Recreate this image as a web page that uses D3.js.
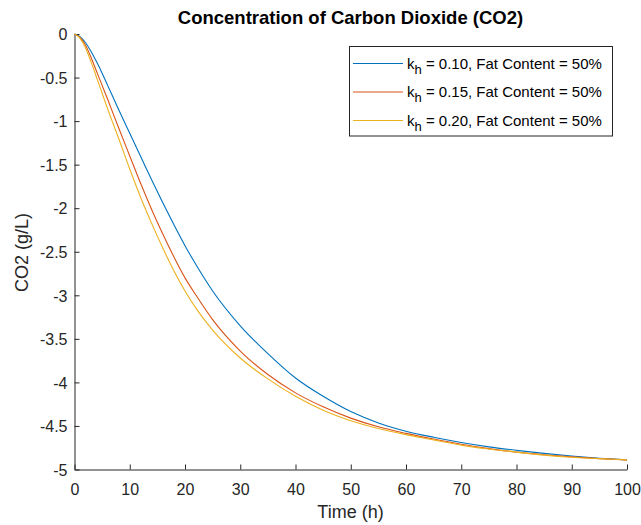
<!DOCTYPE html>
<html><head><meta charset="utf-8">
<script src="https://cdn.jsdelivr.net/npm/d3@7"></script>
<style>body{margin:0;background:#fff;} svg{display:block;font-family:"Liberation Sans",Arial,sans-serif;}</style>
</head><body>
<svg id="chart" width="641" height="525"></svg>
<script>
const time = [0,1,2,3,4,5,6,8,10,12,14,16,18,20,22,25,30,35,40,45,50,55,60,65,70,75,80,85,90,95,100];
const co2_k010 = [0,-0.03,-0.1,-0.2,-0.32,-0.45,-0.59,-0.87,-1.14,-1.41,-1.68,-1.94,-2.19,-2.43,-2.65,-2.95,-3.35,-3.67,-3.95,-4.16,-4.335,-4.465,-4.56,-4.63,-4.69,-4.74,-4.78,-4.815,-4.845,-4.87,-4.89];
const co2_k015 = [0,-0.04,-0.13,-0.27,-0.43,-0.59,-0.75,-1.08,-1.4,-1.72,-2.02,-2.3,-2.56,-2.8,-3.0,-3.28,-3.64,-3.91,-4.12,-4.28,-4.41,-4.51,-4.585,-4.65,-4.71,-4.76,-4.80,-4.83,-4.855,-4.875,-4.89];
const co2_k020 = [0,-0.05,-0.16,-0.32,-0.5,-0.68,-0.86,-1.2,-1.55,-1.88,-2.18,-2.46,-2.72,-2.95,-3.15,-3.4,-3.72,-3.96,-4.16,-4.32,-4.44,-4.53,-4.6,-4.66,-4.72,-4.765,-4.80,-4.835,-4.86,-4.875,-4.89];
const kValues = ["0.10","0.15","0.20"];
const fatContent = "50%";
const xTicks = [0,10,20,30,40,50,60,70,80,90,100];
const yTicks = [0,-0.5,-1,-1.5,-2,-2.5,-3,-3.5,-4,-4.5,-5];
const colors = ["#0072BD","#D95319","#EDB120"];

const series = [co2_k010, co2_k015, co2_k020];
const svg = d3.select("#chart");
const L = 74.5, R = 627, T = 34, B = 469.5;
const x = d3.scaleLinear().domain([0,100]).range([L,R]);
const y = d3.scaleLinear().domain([-5,0]).range([B,T]);
const axisColor = "#262626";

// axes
const xAxis = svg.append("g").attr("transform",`translate(0,${B})`)
  .call(d3.axisBottom(x).tickValues(xTicks).tickSizeInner(-5).tickSizeOuter(0).tickPadding(0).tickFormat(d=>String(d)));
xAxis.select(".domain").attr("stroke",axisColor);
xAxis.selectAll(".tick line").attr("stroke",axisColor);
xAxis.selectAll(".tick text").attr("fill",axisColor).attr("font-size",16).attr("y",25).attr("dy",null)
  .attr("font-family","Liberation Sans, Arial, sans-serif");

const yAxis = svg.append("g").attr("transform",`translate(${L},0)`)
  .call(d3.axisLeft(y).tickValues(yTicks).tickSizeInner(-5).tickSizeOuter(0).tickFormat(d=>String(d)));
yAxis.select(".domain").attr("stroke",axisColor);
yAxis.selectAll(".tick line").attr("stroke",axisColor);
yAxis.selectAll(".tick text").attr("fill",axisColor).attr("font-size",16).attr("x",-7).attr("dy","0.36em")
  .attr("font-family","Liberation Sans, Arial, sans-serif");

// lines
const line = d3.line().x((d,i)=>x(time[i])).y(d=>y(d)).curve(d3.curveMonotoneX);
svg.append("g").selectAll("path").data(series).join("path")
  .attr("d",line).attr("fill","none").attr("stroke",(d,i)=>colors[i]).attr("stroke-width",1.1);

// title & labels
svg.append("text").attr("x",350.5).attr("y",24).attr("text-anchor","middle")
  .attr("font-size",18.5).attr("font-weight","bold").attr("fill","#000")
  .text("Concentration of Carbon Dioxide (CO2)");
svg.append("text").attr("x",350.5).attr("y",518).attr("text-anchor","middle")
  .attr("font-size",18).attr("fill",axisColor).text("Time (h)");
svg.append("text").attr("transform","translate(28,252.5) rotate(-90)").attr("text-anchor","middle")
  .attr("font-size",18).attr("fill",axisColor).text("CO2 (g/L)");

// legend
const lg = svg.append("g");
lg.append("rect").attr("x",349.5).attr("y",46.5).attr("width",263).attr("height",89.5)
  .attr("fill","#fff").attr("stroke",axisColor).attr("stroke-width",1);
const rowY = [63.5,92,120.5];
kValues.forEach((k,i)=>{
  lg.append("line").attr("x1",353).attr("x2",403).attr("y1",rowY[i]).attr("y2",rowY[i])
    .attr("stroke",colors[i]).attr("stroke-width",1.1);
  const t = lg.append("text").attr("x",407).attr("y",rowY[i]+5).attr("font-size",15).attr("fill","#000");
  t.append("tspan").text("k");
  t.append("tspan").attr("dy",5).attr("font-size",13).text("h");
  t.append("tspan").attr("dy",-5).text(` = ${k}, Fat Content = ${fatContent}`);
});
</script>
</body></html>
